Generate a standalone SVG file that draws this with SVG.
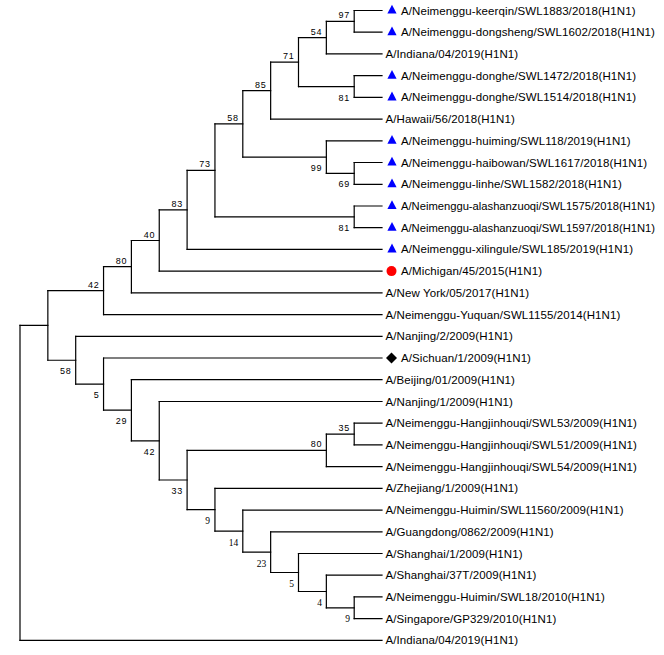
<svg xmlns="http://www.w3.org/2000/svg" width="664" height="655" viewBox="0 0 664 655">
<style>
.bg{fill:#ffffff}
.br{fill:none;stroke:#000;stroke-width:1.2;stroke-linecap:square}
.lf{font-family:"Liberation Sans",Arial,sans-serif;font-size:11.5px;letter-spacing:0.1px;fill:#000}
.lfn{font-family:"Liberation Sans",Arial,sans-serif;font-size:11px;fill:#000}
.bs{font-family:"Liberation Sans",Arial,sans-serif;font-size:9px;fill:#000;text-anchor:end;letter-spacing:0.8px}
.bss{font-family:"Liberation Serif","Times New Roman",serif;font-size:9.5px;fill:#000;text-anchor:end}
.tri{fill:#0000ff}
.cir{fill:#ff0000}
.dia{fill:#000}
</style>
<defs>
<path id="tri" class="tri" d="M0,-5.8L4.6,3L-4.6,3Z"/>
<path id="dia" class="dia" d="M0,-5.5L5.5,0L0,5.5L-5.5,0Z"/>
</defs>
<rect class="bg" x="0" y="0" width="664" height="655"/>
<g id="connectors" class="br">
<path d="M354.2,10.5H382M354.2,32.2H382M326.35,53.9H382M354.2,75.7H382M354.2,97.4H382M270.65,119.1H382M326.35,140.8H382M354.2,162.5H382M354.2,184.3H382M354.2,206H382M354.2,227.7H382M187.1,249.4H382M159.25,271.1H382M131.4,292.9H382M103.55,314.6H382M75.7,336.3H382M103.55,358H382M131.4,379.7H382M159.25,401.5H382M354.2,423.2H382M354.2,444.9H382M326.35,466.6H382M214.95,488.3H382M242.8,510.1H382M270.65,531.8H382M298.5,553.5H382M326.35,575.2H382M354.2,596.9H382M354.2,618.7H382M20,640.4H382"/>
<path d="M326.35,21.35H354.2M298.5,37.6H326.35M298.5,86.55H354.2M270.65,62.1H298.5M242.8,90.6H270.65M326.35,173.4H354.2M242.8,157.1H326.35M214.95,123.85H242.8M214.95,216.85H354.2M187.1,170.35H214.95M159.25,209.9H187.1M131.4,240.5H159.25M103.55,266.7H131.4M47.85,290.65H103.55M20,325.4H47.85M47.85,360.25H75.7M75.7,384.1H103.55M103.55,410.2H131.4M131.4,440.8H159.25M159.25,480H187.1M187.1,450.3H326.35M326.35,434.05H354.2M187.1,509.7H214.95M214.95,531.1H242.8M242.8,552.15H270.65M270.65,572.5H298.5M298.5,591.5H326.35M326.35,607.8H354.2"/>
<path d="M354.2,10.5V32.2M326.35,21.35V53.9M354.2,75.7V97.4M298.5,37.6V86.55M270.65,62.1V119.1M354.2,162.5V184.3M326.35,140.8V173.4M242.8,90.6V157.1M354.2,206V227.7M214.95,123.85V216.85M187.1,170.35V249.4M159.25,209.9V271.1M131.4,240.5V292.9M103.55,266.7V314.6M47.85,290.65V360.25M20,325.4V640.4M75.7,336.3V384.1M103.55,358V410.2M131.4,379.7V440.8M159.25,401.5V480M187.1,450.3V509.7M326.35,434.05V466.6M354.2,423.2V444.9M214.95,488.3V531.1M242.8,510.1V552.15M270.65,531.8V572.5M298.5,553.5V591.5M326.35,575.2V607.8M354.2,596.9V618.7"/>
</g>
<g id="bootstrap">
<g id="n97"><text class="bs" x="350.2" y="18.35">97</text></g>
<g id="n54"><text class="bs" x="322.35" y="34.6">54</text></g>
<g id="n71"><text class="bs" x="294.5" y="59.1">71</text></g>
<g id="n85"><text class="bs" x="266.65" y="87.6">85</text></g>
<g id="n58u"><text class="bs" x="238.8" y="120.85">58</text></g>
<g id="n81a"><text class="bs" x="350.2" y="100.55">81</text></g>
<g id="n99"><text class="bs" x="322.35" y="171.1">99</text></g>
<g id="n69"><text class="bs" x="350.2" y="187.4">69</text></g>
<g id="n73"><text class="bs" x="210.95" y="167.35">73</text></g>
<g id="n81b"><text class="bs" x="350.2" y="230.85">81</text></g>
<g id="n83"><text class="bs" x="183.1" y="206.9">83</text></g>
<g id="n40"><text class="bs" x="155.25" y="237.5">40</text></g>
<g id="n80"><text class="bs" x="127.4" y="263.7">80</text></g>
<g id="n42"><text class="bs" x="99.55" y="287.65">42</text></g>
<g id="n58l"><text class="bs" x="71.7" y="374.25">58</text></g>
<g id="n5"><text class="bs" x="99.55" y="398.1">5</text></g>
<g id="n29"><text class="bs" x="127.4" y="424.2">29</text></g>
<g id="n42l"><text class="bs" x="155.25" y="454.8">42</text></g>
<g id="n80l"><text class="bs" x="322.35" y="447.3">80</text></g>
<g id="n35"><text class="bs" x="350.2" y="431.05">35</text></g>
<g id="n33"><text class="bs" x="183.1" y="494">33</text></g>
<g id="n9"><text class="bss" x="210" y="523.7">9</text></g>
<g id="n14"><text class="bss" x="238.3" y="545.6">14</text></g>
<g id="n23"><text class="bss" x="266.2" y="566.6">23</text></g>
<g id="n5l"><text class="bss" x="294" y="587">5</text></g>
<g id="n4"><text class="bss" x="322" y="606">4</text></g>
<g id="n9l"><text class="bss" x="350" y="622.3">9</text></g>
</g>
<g id="leaves">
<g id="leaf1"><use href="#tri" x="392" y="10.5"/><text class="lf" x="401" y="14.5">A/Neimenggu-keerqin/SWL1883/2018(H1N1)</text></g>
<g id="leaf2"><use href="#tri" x="392" y="32.2"/><text class="lf" x="401" y="36.2">A/Neimenggu-dongsheng/SWL1602/2018(H1N1)</text></g>
<g id="leaf3"><text class="lf" x="385.5" y="57.9">A/Indiana/04/2019(H1N1)</text></g>
<g id="leaf4"><use href="#tri" x="392" y="75.7"/><text class="lf" x="401" y="79.7">A/Neimenggu-donghe/SWL1472/2018(H1N1)</text></g>
<g id="leaf5"><use href="#tri" x="392" y="97.4"/><text class="lf" x="401" y="101.4">A/Neimenggu-donghe/SWL1514/2018(H1N1)</text></g>
<g id="leaf6"><text class="lf" x="385.5" y="123.1">A/Hawaii/56/2018(H1N1)</text></g>
<g id="leaf7"><use href="#tri" x="392" y="140.8"/><text class="lf" x="401" y="144.8">A/Neimenggu-huiming/SWL118/2019(H1N1)</text></g>
<g id="leaf8"><use href="#tri" x="392" y="162.5"/><text class="lf" x="401" y="166.5">A/Neimenggu-haibowan/SWL1617/2018(H1N1)</text></g>
<g id="leaf9"><use href="#tri" x="392" y="184.3"/><text class="lf" x="401" y="188.3">A/Neimenggu-linhe/SWL1582/2018(H1N1)</text></g>
<g id="leaf10"><use href="#tri" x="392" y="206"/><text class="lfn" x="401" y="210" textLength="254" lengthAdjust="spacingAndGlyphs">A/Neimenggu-alashanzuoqi/SWL1575/2018(H1N1)</text></g>
<g id="leaf11"><use href="#tri" x="392" y="227.7"/><text class="lfn" x="401" y="231.7" textLength="254" lengthAdjust="spacingAndGlyphs">A/Neimenggu-alashanzuoqi/SWL1597/2018(H1N1)</text></g>
<g id="leaf12"><use href="#tri" x="392" y="249.4"/><text class="lf" x="401" y="253.4">A/Neimenggu-xilingule/SWL185/2019(H1N1)</text></g>
<g id="leaf13"><circle class="cir" cx="391.5" cy="271.1" r="5"/><text class="lf" x="401" y="275.1">A/Michigan/45/2015(H1N1)</text></g>
<g id="leaf14"><text class="lf" x="385.5" y="296.9">A/New York/05/2017(H1N1)</text></g>
<g id="leaf15"><text class="lf" x="385.5" y="318.6">A/Neimenggu-Yuquan/SWL1155/2014(H1N1)</text></g>
<g id="leaf16"><text class="lf" x="385.5" y="340.3">A/Nanjing/2/2009(H1N1)</text></g>
<g id="leaf17"><use href="#dia" x="391.5" y="358"/><text class="lf" x="401" y="362">A/Sichuan/1/2009(H1N1)</text></g>
<g id="leaf18"><text class="lf" x="385.5" y="383.7">A/Beijing/01/2009(H1N1)</text></g>
<g id="leaf19"><text class="lf" x="385.5" y="405.5">A/Nanjing/1/2009(H1N1)</text></g>
<g id="leaf20"><text class="lf" x="385.5" y="427.2">A/Neimenggu-Hangjinhouqi/SWL53/2009(H1N1)</text></g>
<g id="leaf21"><text class="lf" x="385.5" y="448.9">A/Neimenggu-Hangjinhouqi/SWL51/2009(H1N1)</text></g>
<g id="leaf22"><text class="lf" x="385.5" y="470.6">A/Neimenggu-Hangjinhouqi/SWL54/2009(H1N1)</text></g>
<g id="leaf23"><text class="lf" x="385.5" y="492.3">A/Zhejiang/1/2009(H1N1)</text></g>
<g id="leaf24"><text class="lf" x="385.5" y="514.1">A/Neimenggu-Huimin/SWL11560/2009(H1N1)</text></g>
<g id="leaf25"><text class="lf" x="385.5" y="535.8">A/Guangdong/0862/2009(H1N1)</text></g>
<g id="leaf26"><text class="lf" x="385.5" y="557.5">A/Shanghai/1/2009(H1N1)</text></g>
<g id="leaf27"><text class="lf" x="385.5" y="579.2">A/Shanghai/37T/2009(H1N1)</text></g>
<g id="leaf28"><text class="lf" x="385.5" y="600.9">A/Neimenggu-Huimin/SWL18/2010(H1N1)</text></g>
<g id="leaf29"><text class="lf" x="385.5" y="622.7">A/Singapore/GP329/2010(H1N1)</text></g>
<g id="leaf30"><text class="lf" x="385.5" y="644.4">A/Indiana/04/2019(H1N1)</text></g>
</g>
</svg>
